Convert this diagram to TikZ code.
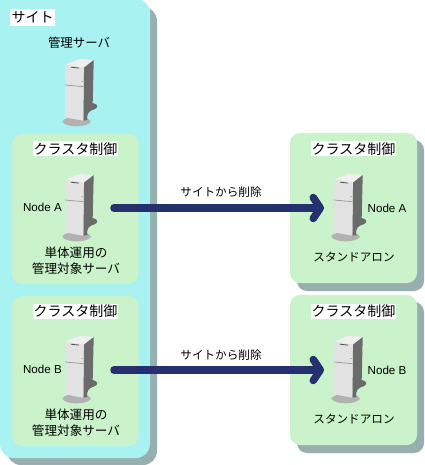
\documentclass[tikz,border=0pt]{standalone}
\usepackage{fontspec}
\setmainfont{Noto Sans CJK JP}
\newfontfamily\latinf{Liberation Sans}
\usetikzlibrary{arrows.meta}
\definecolor{sitecol}{HTML}{A8F2F2}
\definecolor{shadowcol}{HTML}{97AFAF}
\definecolor{clustercol}{HTML}{CBF3CB}
\definecolor{arrowcol}{HTML}{26306E}
\tikzset{
  x=1pt,y=-1pt,
  lbl/.style={inner sep=0pt,font=\fontsize{12.6}{16}\selectfont,align=center,text=black},
  smalllbl/.style={inner sep=0pt,font=\fontsize{11.6}{15}\selectfont,align=center,text=black},
  nodelbl/.style={inner sep=0pt,font=\latinf\fontsize{11.6}{15}\selectfont,text=black},
  head/.style={fill=white,inner xsep=1pt,inner ysep=0pt,minimum height=15pt,font=\fontsize{14}{15}\selectfont,text=black},
  sitehead/.style={fill=white,inner xsep=1.5pt,inner ysep=0pt,minimum height=17pt,font=\fontsize{14}{16}\selectfont,text=black},
  panel/.style={fill=clustercol,rounded corners=10pt},
  shade/.style={fill=shadowcol,rounded corners=10pt},
  bigarrow/.style={draw=arrowcol,line width=7.5pt,line cap=round,line join=round,
    -{Straight Barb[round,length=7pt,width=21pt,line width=7.5pt]}},
  pics/server/.style={code={
    % base
    \fill[black!30] (62.3,121.5) .. controls (65,115.5) and (88,115.5) .. (91,121.5)
       .. controls (88,128) and (65,128) .. (62.3,121.5) -- cycle;
    % top
    \fill[black!6] (65.3,64.5) -- (79.3,59) -- (93.7,60) -- (83.8,67.8) -- cycle;
    % side with cast shadow
    \fill[black!58] (83.8,67.8) -- (93.7,60) -- (92.7,103) .. controls (98.5,104) and (98.5,108) .. (94,109.5)
       .. controls (90,110.5) and (86,113) .. (87.5,120) -- (83.3,120.7) -- cycle;
    % front
    \fill[black!11] (65.3,64.5) -- (83.8,67.8) -- (83.3,120.7) -- (65,117.3) -- cycle;
    \draw[black!45,line width=0.6pt] (65.2,85) -- (83.6,86.7);
    \draw[black!70,line width=0.8pt] (71,67.2) -- (79,68.1);
    \fill[black!60] (82,81.5) circle (0.5pt);
  }},
}
\begin{document}
\begin{tikzpicture}
\useasboundingbox (0,0) rectangle (424,465);
\fill[white] (0,0) rectangle (424,465);
% site
\fill[shade,rounded corners=14pt] (7,7) rectangle (157,465);
\fill[sitecol,rounded corners=14pt] (0,-1) rectangle (150,458);
\fill[sitecol] (0,-1) rectangle (20,20);
\node[sitehead] (site) at (32.5,17.5) {サイト};
\node[lbl,font=\fontsize{12.4}{16}\selectfont] (mgr) at (79,43) {管理サーバ};
\pic at (0,0) {server};
% left clusters
\fill[panel] (12,133.5) rectangle (138.5,284);
\fill[panel] (12,296) rectangle (138.5,446);
\node[head] (c1) at (75.5,149) {クラスタ制御};
\node[head] (c2) at (75.5,311) {クラスタ制御};
\pic at (0,115) {server};
\pic at (0,277) {server};
\node[nodelbl,anchor=east] (na) at (62,207) {Node A};
\node[nodelbl,anchor=east] (nb) at (62,369) {Node B};
\node[lbl] (t1) at (76,261) {単体運用の\\管理対象サーバ};
\node[lbl] (t2) at (76,423) {単体運用の\\管理対象サーバ};
% right clusters
\fill[shade] (297,140) rectangle (424,291);
\fill[panel] (290,133) rectangle (417,283);
\fill[shade] (297,302) rectangle (424,453);
\fill[panel] (290,295) rectangle (417,445);
\node[head] (c3) at (353.5,149) {クラスタ制御};
\node[head] (c4) at (353.5,311) {クラスタ制御};
\pic at (269,115) {server};
\pic at (269,277) {server};
\node[nodelbl,anchor=west] (nc) at (367.5,208) {Node A};
\node[nodelbl,anchor=west] (nd) at (367.5,370) {Node B};
\node[smalllbl] (s1) at (354,257) {スタンドアロン};
\node[smalllbl] (s2) at (354,419) {スタンドアロン};
% arrows
\coordinate (a1s) at (114,208); \coordinate (a1e) at (324,208);
\coordinate (a2s) at (114,370); \coordinate (a2e) at (324,370);
\draw[bigarrow] (a1s) -- (a1e);
\draw[bigarrow] (a2s) -- (a2e);
\node[smalllbl] (l1) at (221,192) {サイトから削除};
\node[smalllbl] (l2) at (221,355) {サイトから削除};
\end{tikzpicture}
\end{document}
